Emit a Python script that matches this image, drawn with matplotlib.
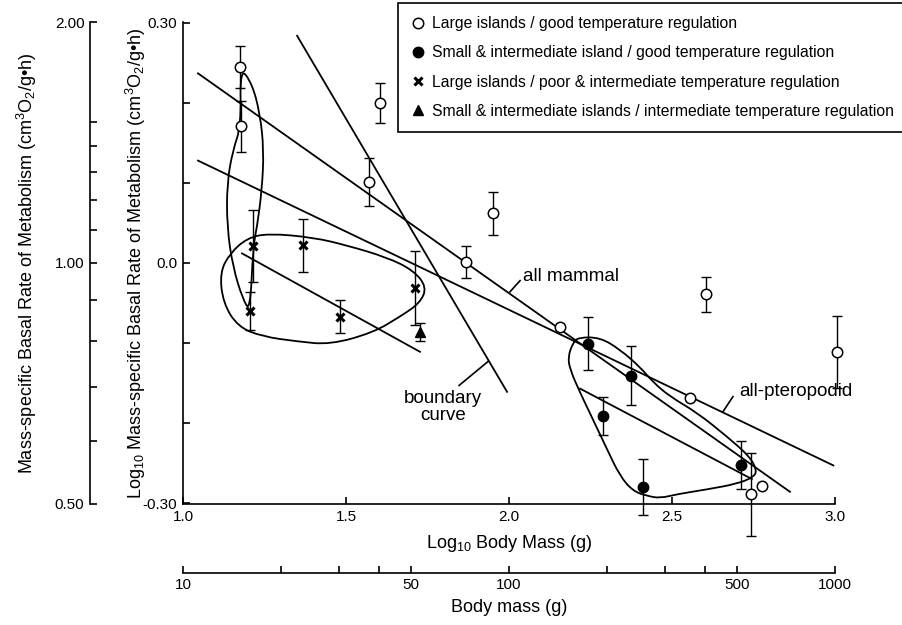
import numpy as np
import matplotlib
matplotlib.use('Agg')
import matplotlib.pyplot as plt
from matplotlib.path import Path
from matplotlib.patches import PathPatch
from matplotlib.lines import Line2D

plt.rcParams['font.family'] = ['Liberation Sans', 'DejaVu Sans']
plt.rcParams['mathtext.fontset'] = 'custom'
plt.rcParams['mathtext.rm'] = 'Liberation Sans'
plt.rcParams['mathtext.it'] = 'Liberation Sans:italic'
plt.rcParams['axes.unicode_minus'] = False

# log10 body mass, log10 rate, error (0 = no bar)
open_x = [1.175, 1.178, 1.604, 1.571, 1.951, 1.868, 2.156, 2.604, 2.555, 3.006, 2.742, 2.776]
open_y = [0.245, 0.171, 0.200, 0.101, 0.062, 0.001, -0.080, -0.039, -0.169, -0.111, -0.289, -0.279]
open_e = [0.026, 0.032, 0.025, 0.030, 0.027, 0.020, 0.0, 0.022, 0.0, 0.045, 0.052, 0.0]

filled_x = [2.242, 2.374, 2.288, 2.411, 2.712]
filled_y = [-0.101, -0.141, -0.191, -0.280, -0.253]
filled_e = [0.033, 0.037, 0.024, 0.035, 0.030]

cross_x = [1.215, 1.206, 1.368, 1.482, 1.712]
cross_y = [0.021, -0.060, 0.022, -0.067, -0.031]
cross_e = [0.045, 0.024, 0.033, 0.021, 0.046]

tri_x = [1.727]
tri_y = [-0.086]
tri_e = [0.011]

# regression / boundary lines (end points)
mammal_x, mammal_y = [1.046, 2.862], [0.237, -0.286]
ptero_x, ptero_y = [1.046, 2.995], [0.128, -0.253]
bound_x, bound_y = [1.350, 1.994], [0.284, -0.161]
crossfit_x, crossfit_y = [1.181, 1.727], [0.012, -0.111]
filledfit_x, filledfit_y = [2.218, 2.745], [-0.157, -0.270]

# enclosure outlines (control polygons)
loopA_x = [1.175, 1.212, 1.236, 1.248, 1.242, 1.227, 1.215, 1.206, 1.184, 1.153, 1.135, 1.135, 1.153, 1.178]
loopA_y = [0.245, 0.224, 0.187, 0.141, 0.091, 0.045, 0.020, -0.060, -0.046, -0.005, 0.045, 0.100, 0.141, 0.171]
loopB_x = [1.261, 1.399, 1.503, 1.626, 1.706, 1.748, 1.727, 1.666, 1.583, 1.451, 1.350, 1.245, 1.169, 1.123, 1.113, 1.144, 1.196]
loopB_y = [0.037, 0.032, 0.022, 0.007, -0.009, -0.030, -0.050, -0.067, -0.087, -0.102, -0.098, -0.092, -0.080, -0.050, -0.012, 0.012, 0.031]
loopC_x = [2.212, 2.279, 2.340, 2.402, 2.442, 2.494, 2.577, 2.669, 2.739, 2.761, 2.748, 2.699, 2.607, 2.515, 2.463, 2.423, 2.380, 2.340, 2.301, 2.258, 2.218, 2.187, 2.181, 2.196]
loopC_y = [-0.093, -0.093, -0.108, -0.130, -0.149, -0.167, -0.187, -0.217, -0.242, -0.260, -0.268, -0.276, -0.283, -0.289, -0.294, -0.291, -0.285, -0.266, -0.233, -0.196, -0.162, -0.133, -0.117, -0.100]

rate_ticks = [0.5, 0.6, 0.7, 0.8, 0.9, 1.0, 1.1, 1.2, 1.3, 1.4, 1.5, 2.0]
rate_labels = ['0.50', '', '', '', '', '1.00', '', '', '', '', '', '2.00']
mass_ticks = [10, 20, 30, 40, 50, 100, 200, 300, 400, 500, 1000]
mass_labels = ['10', '', '', '', '50', '100', '', '', '', '500', '1000']

legend_labels = ['Large islands / good temperature regulation',
                 'Small & intermediate island / good temperature regulation',
                 'Large islands / poor & intermediate temperature regulation',
                 'Small & intermediate islands / intermediate temperature regulation']


def smooth_loop(ax, xs, ys):
    pts = np.column_stack([xs, ys])
    mids = (pts + np.roll(pts, -1, axis=0)) / 2
    verts = [mids[-1]]
    codes = [Path.MOVETO]
    for i in range(len(pts)):
        verts += [pts[i], mids[i]]
        codes += [Path.CURVE3, Path.CURVE3]
    ax.add_patch(PathPatch(Path(verts, codes), fill=False, lw=1.3, ec='k'))


def points(ax, xs, ys, es, **kw):
    xs, ys, es = np.array(xs), np.array(ys), np.array(es)
    m = es > 0
    ax.errorbar(xs[m], ys[m], yerr=es[m], fmt='none', ecolor='k', elinewidth=1,
                capsize=3.5, capthick=1, clip_on=False, zorder=3)
    ax.plot(xs, ys, ls='none', clip_on=False, zorder=5, **kw)


fig = plt.figure(figsize=(9.03, 6.25), dpi=100)
ax = fig.add_axes([183/903, 121/625, 652/903, 482/625])
ax.set_xlim(1.0, 3.0)
ax.set_ylim(-0.3012, 0.3012)
for s in ['top', 'right']:
    ax.spines[s].set_visible(False)
for s in ['left', 'bottom']:
    ax.spines[s].set_linewidth(1.2)
ax.set_xticks([1.0, 1.5, 2.0, 2.5, 3.0], labels=['1.0', '1.5', '2.0', '2.5', '3.0'])
ax.set_yticks([-0.3, -0.2, -0.1, 0.0, 0.1, 0.2, 0.3], labels=['-0.30', '', '', '0.0', '', '', '0.30'])
ax.tick_params(direction='in', length=5, width=1.2, labelsize=11, pad=4)

open_style = dict(marker='o', ms=7.5, mfc='white', mec='k', mew=1.1)
filled_style = dict(marker='o', ms=7.5, mfc='k', mec='k')
cross_style = dict(marker='x', ms=6, mec='k', mew=2.2)
tri_style = dict(marker='^', ms=7.5, mfc='k', mec='k')

points(ax, open_x, open_y, open_e, **open_style)
points(ax, filled_x, filled_y, filled_e, **filled_style)
points(ax, cross_x, cross_y, cross_e, **cross_style)
points(ax, tri_x, tri_y, tri_e, **tri_style)

for lx, ly in [(mammal_x, mammal_y), (ptero_x, ptero_y), (bound_x, bound_y),
               (crossfit_x, crossfit_y), (filledfit_x, filledfit_y)]:
    ax.plot(lx, ly, color='k', lw=1.3, clip_on=False)

smooth_loop(ax, loopA_x, loopA_y)
smooth_loop(ax, loopB_x, loopB_y)
smooth_loop(ax, loopC_x, loopC_y)

# labels with leader strokes
ax.plot([2.003, 2.034], [-0.036, -0.022], color='k', lw=1.2)
ax.text(2.044, -0.017, 'all mammal', fontsize=13.5, va='center', ha='left')
ax.plot([2.656, 2.687], [-0.186, -0.167], color='k', lw=1.2)
ax.text(2.707, -0.161, 'all-pteropodid', fontsize=13.5, va='center', ha='left')
ax.plot([1.847, 1.936], [-0.153, -0.123], color='k', lw=1.2)
ax.text(1.798, -0.180, 'boundary\ncurve', fontsize=13.5, va='center', ha='center',
        linespacing=1.0)

# second scales
rate_ax = ax.secondary_yaxis((90 - 183) / 652, functions=(lambda v: 10**v, np.log10))
rate_ax.set_yticks(rate_ticks, labels=rate_labels)
rate_ax.tick_params(direction='in', length=5, width=1.2, labelsize=11, pad=4)
rate_ax.spines['left'].set_linewidth(1.2)

mass_ax = ax.secondary_xaxis(-0.143, functions=(lambda v: 10**v, np.log10))
mass_ax.set_xticks(mass_ticks, labels=mass_labels)
mass_ax.tick_params(direction='in', length=5, width=1.2, labelsize=11, pad=4)
mass_ax.spines['bottom'].set_linewidth(1.2)

fig.text(509/903, 1 - 543/625, r'Log$_{10}$ Body Mass (g)', fontsize=13, ha='center', va='center')
fig.text(509/903, 1 - 608/625, 'Body mass (g)', fontsize=13, ha='center', va='center')
fig.text(136/903, 1 - 263/625,
         r'Log$_{10}$ Mass-specific Basal Rate of Metabolism (cm$^3$O$_2$/g•h)',
         fontsize=13, rotation=90, ha='center', va='center')
fig.text(27/903, 1 - 263/625, r'Mass-specific Basal Rate of Metabolism (cm$^3$O$_2$/g•h)',
         fontsize=13, rotation=90, ha='center', va='center')

handles = [Line2D([], [], ls='none', **open_style),
           Line2D([], [], ls='none', **filled_style),
           Line2D([], [], ls='none', **cross_style),
           Line2D([], [], ls='none', **tri_style)]
leg = fig.legend(handles, legend_labels, loc='upper left', bbox_to_anchor=(398/903, 1 - 3/625),
                 fontsize=11.3, frameon=True, fancybox=False, edgecolor='k', framealpha=1,
                 handlelength=0.8, handletextpad=0.5, labelspacing=0.9, borderpad=0.85,
                 borderaxespad=0)
leg.get_frame().set_linewidth(1.2)

fig.savefig('out.png', dpi=100)
